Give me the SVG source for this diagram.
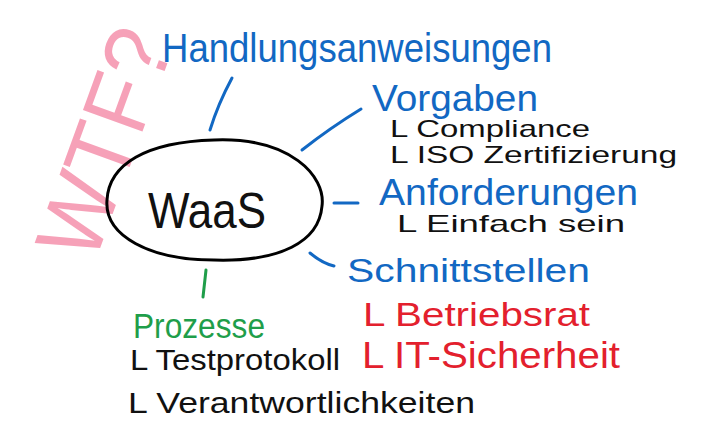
<svg xmlns="http://www.w3.org/2000/svg" width="725" height="438" viewBox="0 0 725 438">
<style>
text{font-family:"Liberation Sans","DejaVu Sans",sans-serif;}
.b{fill:#1268c3}
.k{fill:#111}
.r{fill:#e3202d}
.g{fill:#1f9e4a}
.cb{stroke:#1268c3;stroke-width:3;fill:none;stroke-linecap:round}
.cg{stroke:#1f9e4a;stroke-width:3;fill:none;stroke-linecap:round}
</style>
<rect width="725" height="438" fill="#fff"/>
<g id="wtf">
<text x="0" y="0" transform="translate(94,265) rotate(-70)" font-size="92" fill="#f0557f" opacity="0.55" textLength="236" lengthAdjust="spacingAndGlyphs">WTF?</text>
</g>
<g id="connectors">
<path class="cb" d="M232,78 Q218,104 210,130"/>
<path class="cb" d="M361,109 Q330,128 302,150"/>
<path class="cb" d="M334,203 L358,203"/>
<path class="cb" d="M310,253 Q322,263 334,266"/>
<path class="cg" d="M206,270 L203,297"/>
</g>
<g id="waas">
<path d="M214,140 C290,137 326,176 322,206 C319,242 280,262 214,260 C150,260 104,236 107,200 C109,164 146,142 214,140 Z" fill="none" stroke="#000" stroke-width="3"/>
<text x="148" y="228" font-size="50" class="k" textLength="118" lengthAdjust="spacingAndGlyphs">WaaS</text>
</g>
<g id="handlungsanweisungen">
<text x="162" y="62" font-size="40" class="b" textLength="390" lengthAdjust="spacingAndGlyphs">Handlungsanweisungen</text>
</g>
<g id="vorgaben">
<text x="372" y="111" font-size="36" class="b" textLength="166" lengthAdjust="spacingAndGlyphs">Vorgaben</text>
<text x="390" y="137" font-size="24" class="k" textLength="200" lengthAdjust="spacingAndGlyphs">L Compliance</text>
<text x="390" y="163" font-size="24" class="k" textLength="287" lengthAdjust="spacingAndGlyphs">L ISO Zertifizierung</text>
</g>
<g id="anforderungen">
<text x="379" y="205" font-size="37" class="b" textLength="259" lengthAdjust="spacingAndGlyphs">Anforderungen</text>
<text x="397" y="232" font-size="24" class="k" textLength="228" lengthAdjust="spacingAndGlyphs">L Einfach sein</text>
</g>
<g id="schnittstellen">
<text x="347" y="282" font-size="34" class="b" textLength="243" lengthAdjust="spacingAndGlyphs">Schnittstellen</text>
<text x="363" y="326" font-size="34" class="r" textLength="227" lengthAdjust="spacingAndGlyphs">L Betriebsrat</text>
<text x="362" y="368" font-size="36" class="r" textLength="258" lengthAdjust="spacingAndGlyphs">L IT-Sicherheit</text>
</g>
<g id="prozesse">
<text x="133" y="338" font-size="35" class="g" textLength="132" lengthAdjust="spacingAndGlyphs">Prozesse</text>
<text x="130" y="370" font-size="29" class="k" textLength="210" lengthAdjust="spacingAndGlyphs">L Testprotokoll</text>
<text x="128" y="413" font-size="30" class="k" textLength="347" lengthAdjust="spacingAndGlyphs">L Verantwortlichkeiten</text>
</g>
</svg>
